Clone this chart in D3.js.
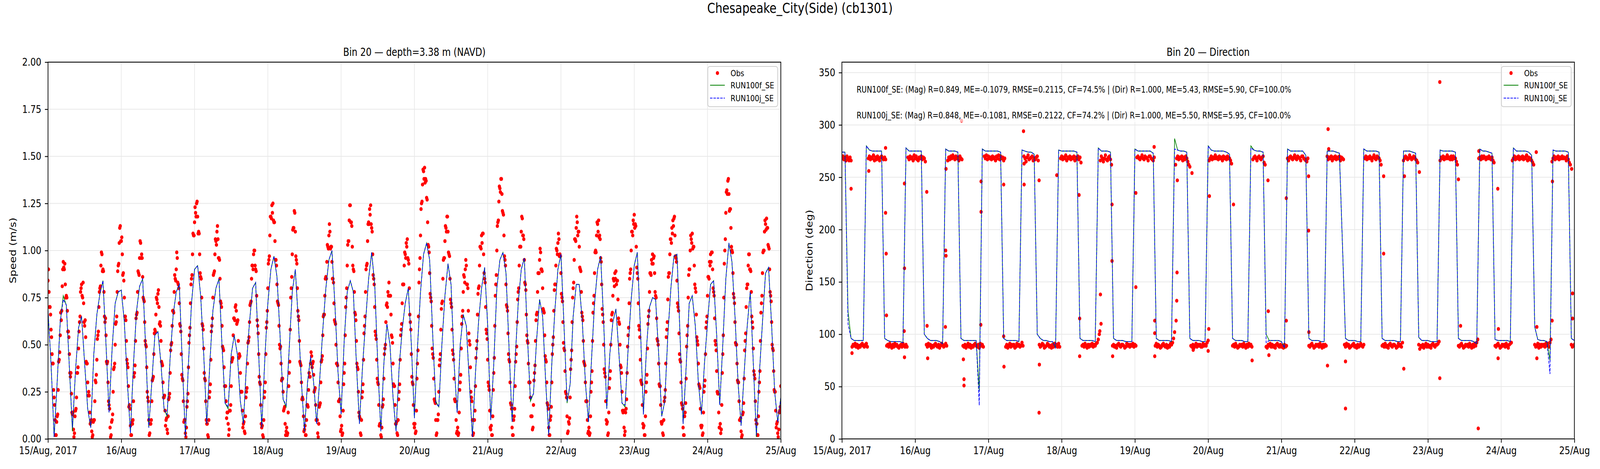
<!DOCTYPE html>
<html>
<head>
  <meta charset="utf-8">
  <title>Chesapeake_City(Side) (cb1301)</title>
  <script src="https://cdn.jsdelivr.net/npm/d3@7"></script>
  <style>
    html, body { margin: 0; padding: 0; background: #fff; overflow: hidden; }
    svg { display: block; width: 100vw; height: 100vh; }
    svg text { font-family: "DejaVu Sans", sans-serif; fill: #000; }
  </style>
</head>
<body>
<script>
'use strict';

// ---------- data ----------
const START = Date.UTC(2017, 7, 15);   // 15 Aug 2017 00:00
const HOUR = 3600 * 1000;

const dayTickHours = [0, 24, 48, 72, 96, 120, 144, 168, 192, 216, 240];
const dayTickLabels = ["15/Aug, 2017", "16/Aug", "17/Aug", "18/Aug", "19/Aug", "20/Aug",
                       "21/Aug", "22/Aug", "23/Aug", "24/Aug", "25/Aug"];
const speedTicks = [0, 0.25, 0.5, 0.75, 1.0, 1.25, 1.5, 1.75, 2.0];
const dirTicks = [0, 50, 100, 150, 200, 250, 300, 350];

const seriesNames = ["Obs", "RUN100f_SE", "RUN100j_SE"];
const statsLines = [
  "RUN100f_SE: (Mag) R=0.849, ME=-0.1079, RMSE=0.2115, CF=74.5% | (Dir) R=1.000, ME=5.43, RMSE=5.90, CF=100.0%",
  "RUN100j_SE: (Mag) R=0.848, ME=-0.1081, RMSE=0.2122, CF=74.2% | (Dir) R=1.000, ME=5.50, RMSE=5.95, CF=100.0%"
];

// model speed, hourly from 15/Aug 00:00 (m/s)
const run100fSpeed = [
  0.68,0.40,0.01,0.30,0.62,0.76,0.71,0.38,0.04,0.36,
  0.59,0.65,0.40,0.16,0.06,0.45,0.66,0.77,0.84,0.50,
  0.14,0.48,0.72,0.78,0.79,0.62,0.30,0.03,0.40,0.68,
  0.81,0.85,0.48,0.06,0.30,0.55,0.57,0.40,0.16,0.12,
  0.43,0.66,0.78,0.82,0.40,0.01,0.40,0.72,0.90,0.92,
  0.76,0.45,0.08,0.40,0.68,0.80,0.85,0.49,0.19,0.16,
  0.45,0.55,0.45,0.20,0.08,0.40,0.62,0.80,0.83,0.45,
  0.06,0.42,0.72,0.90,0.97,0.86,0.55,0.21,0.17,0.48,
  0.78,0.90,0.62,0.30,0.04,0.30,0.43,0.30,0.08,0.32,
  0.58,0.80,0.95,1.00,0.70,0.35,0.13,0.52,0.78,0.84,
  0.78,0.40,0.08,0.38,0.62,0.85,0.99,0.82,0.40,0.04,
  0.40,0.61,0.50,0.22,0.04,0.38,0.58,0.72,0.80,0.50,
  0.11,0.48,0.78,0.98,1.04,0.95,0.55,0.20,0.17,0.50,
  0.76,0.93,0.82,0.40,0.14,0.50,0.66,0.60,0.30,0.01,
  0.35,0.62,0.80,0.91,0.60,0.10,0.40,0.80,0.95,0.99,
  0.88,0.48,0.09,0.42,0.72,0.90,0.96,0.55,0.20,0.24,
  0.52,0.74,0.65,0.30,0.02,0.40,0.68,0.90,0.98,0.60,
  0.19,0.29,0.65,0.82,0.82,0.62,0.30,0.09,0.42,0.72,
  0.90,0.97,0.62,0.16,0.45,0.62,0.69,0.45,0.19,0.17,
  0.48,0.74,0.92,0.99,0.60,0.13,0.48,0.70,0.75,0.74,
  0.45,0.12,0.20,0.55,0.80,0.97,0.98,0.55,0.08,0.38,
  0.72,0.76,0.60,0.30,0.13,0.40,0.62,0.82,0.84,0.55,
  0.18,0.50,0.85,1.04,0.94,0.65,0.30,0.07,0.35,0.60,
  0.78,0.40,0.01,0.35,0.62,0.88,0.91,0.60,0.25,0.09,
  0.22
];
const run100jSpeed = [
  0.68,0.40,0.01,0.30,0.62,0.74,0.71,0.38,0.06,0.36,
  0.59,0.65,0.40,0.16,0.06,0.45,0.66,0.77,0.84,0.50,
  0.14,0.48,0.72,0.78,0.79,0.62,0.30,0.03,0.40,0.68,
  0.81,0.85,0.48,0.06,0.30,0.55,0.57,0.40,0.16,0.13,
  0.43,0.66,0.78,0.82,0.40,0.01,0.40,0.72,0.90,0.92,
  0.76,0.45,0.08,0.40,0.68,0.80,0.85,0.49,0.19,0.17,
  0.45,0.55,0.45,0.20,0.08,0.40,0.62,0.80,0.83,0.45,
  0.06,0.42,0.72,0.90,0.97,0.86,0.55,0.21,0.18,0.48,
  0.78,0.90,0.62,0.30,0.04,0.30,0.44,0.30,0.08,0.32,
  0.58,0.80,0.95,1.00,0.70,0.35,0.13,0.52,0.78,0.84,
  0.78,0.40,0.08,0.38,0.62,0.85,0.99,0.82,0.40,0.04,
  0.40,0.61,0.50,0.22,0.04,0.38,0.58,0.72,0.80,0.50,
  0.11,0.48,0.78,0.98,1.04,0.95,0.55,0.19,0.17,0.50,
  0.76,0.93,0.82,0.40,0.14,0.50,0.66,0.60,0.30,0.01,
  0.35,0.62,0.80,0.91,0.60,0.10,0.40,0.80,0.95,0.99,
  0.88,0.48,0.09,0.42,0.72,0.90,0.96,0.55,0.21,0.24,
  0.52,0.74,0.65,0.30,0.02,0.40,0.68,0.90,0.98,0.60,
  0.20,0.29,0.65,0.82,0.82,0.62,0.30,0.09,0.42,0.72,
  0.90,0.97,0.62,0.16,0.45,0.62,0.69,0.45,0.19,0.18,
  0.48,0.74,0.92,0.99,0.60,0.13,0.48,0.70,0.75,0.74,
  0.45,0.12,0.20,0.55,0.80,0.97,0.98,0.55,0.08,0.38,
  0.72,0.76,0.60,0.30,0.13,0.40,0.62,0.82,0.84,0.55,
  0.18,0.50,0.85,1.04,0.94,0.65,0.30,0.07,0.35,0.60,
  0.78,0.40,0.02,0.35,0.62,0.88,0.91,0.60,0.25,0.09,
  0.22
];

// model direction, hourly (deg)
const run100fDir = [
  274,274,122,96,94,94,94,94,280,276,
  275,275,275,275,96,94,93,93,93,93,
  92,278,275,275,275,275,275,100,96,94,
  94,94,93,91,277,275,275,275,274,96,
  94,94,94,94,94,46,277,275,275,275,
  275,275,274,96,94,94,94,94,93,276,
  275,274,274,272,100,96,94,94,93,93,
  87,276,275,275,275,275,275,274,96,94,
  94,94,94,93,278,275,275,275,274,96,
  94,94,94,93,93,93,277,275,275,275,
  275,275,273,96,94,94,94,94,93,287,
  276,275,275,274,96,94,94,94,93,93,
  280,276,275,275,275,275,274,272,96,94,
  94,94,93,93,280,276,275,275,274,100,
  94,94,94,94,93,87,277,275,275,275,
  275,275,271,96,94,94,94,93,93,275,
  275,275,274,273,186,96,94,94,94,93,
  93,277,275,275,275,275,274,96,94,94,
  94,94,93,93,275,275,275,274,273,97,
  94,94,94,93,93,93,276,275,275,275,
  275,274,96,94,94,94,94,93,91,277,
  275,275,274,273,95,94,94,94,94,93,
  278,275,275,275,275,274,271,107,95,94,
  94,93,75,276,275,275,275,275,274,96,
  94
];
const run100jDir = [
  274,274,110,96,94,94,94,94,280,276,
  275,275,275,275,96,94,93,93,93,93,
  92,278,275,275,275,275,275,100,96,94,
  94,94,93,91,277,275,275,275,274,96,
  94,94,94,94,94,32,277,275,275,275,
  275,275,274,96,94,94,94,94,93,276,
  275,274,274,272,100,96,94,94,93,93,
  87,276,275,275,275,275,275,274,96,94,
  94,94,94,93,278,275,275,275,274,96,
  94,94,94,93,93,93,277,275,275,275,
  275,275,273,96,94,94,94,94,93,277,
  276,275,275,274,96,94,94,94,93,93,
  280,276,275,275,275,275,274,272,96,94,
  94,94,93,93,278,276,275,275,274,92,
  94,94,94,94,93,87,277,275,275,275,
  275,275,271,96,94,94,94,93,93,275,
  275,275,274,273,186,96,94,94,94,93,
  93,277,275,275,275,275,274,96,94,94,
  94,94,93,93,275,275,275,274,273,97,
  94,94,94,93,93,93,276,275,275,275,
  275,274,96,94,94,94,94,93,91,277,
  275,275,274,273,95,94,94,94,94,93,
  278,275,275,275,275,274,271,107,95,94,
  94,93,62,276,275,275,275,275,274,96,
  94
];

// observed speed, six samples per hour (every 10 min), one group per hour
const obsSpeed = [
  [0.84,0.90,0.78,0.70,0.70,0.66],[0.58,0.54,0.45,0.40,0.40,0.26],[0.22,0.18,0.10,0.02,0.02,0.09],
  [0.12,0.13,0.26,0.41,0.42,0.46],[0.55,0.67,0.63,0.68,0.81,0.90],[0.94,0.91,0.90,0.93,0.82,0.75],
  [0.76,0.75,0.68,0.57,0.57,0.54],[0.45,0.35,0.33,0.35,0.24,0.14],[0.13,0.14,0.05,0.01,0.03,0.12],
  [0.15,0.16,0.22,0.35,0.35,0.38],[0.48,0.57,0.62,0.65,0.78,0.80],[0.82,0.76,0.75,0.83,0.72,0.62],
  [0.60,0.63,0.54,0.41,0.40,0.40],[0.30,0.23,0.25,0.23,0.14,0.08],[0.09,0.10,0.04,0.01,0.02,0.09],
  [0.10,0.10,0.20,0.31,0.30,0.34],[0.42,0.53,0.55,0.57,0.70,0.78],[0.80,0.81,0.92,0.99,0.98,0.89],
  [0.90,0.89,0.78,0.65,0.62,0.64],[0.55,0.41,0.40,0.41,0.30,0.20],[0.18,0.16,0.06,0.01,0.02,0.09],
  [0.10,0.13,0.25,0.37,0.38,0.40],[0.50,0.61,0.62,0.65,0.78,0.89],[0.92,0.93,1.04,1.12,1.13,1.05],
  [1.05,1.07,0.98,0.87,0.88,0.84],[0.75,0.65,0.65,0.63,0.52,0.42],[0.40,0.38,0.28,0.17,0.18,0.16],
  [0.07,0.02,0.02,0.09,0.08,0.10],[0.20,0.33,0.35,0.39,0.52,0.64],[0.66,0.67,0.78,0.89,0.88,0.87],
  [0.96,1.05,1.04,0.96,0.98,0.96],[0.86,0.75,0.74,0.73,0.62,0.52],[0.50,0.49,0.38,0.25,0.22,0.20],
  [0.10,0.02,0.03,0.08,0.08,0.10],[0.20,0.31,0.32,0.33,0.45,0.56],[0.58,0.57,0.66,0.75,0.74,0.72],
  [0.77,0.79,0.70,0.61,0.62,0.60],[0.52,0.41,0.40,0.39,0.30,0.22],[0.22,0.23,0.15,0.07,0.10,0.11],
  [0.05,0.03,0.12,0.21,0.22,0.24],[0.35,0.47,0.50,0.51,0.60,0.68],[0.68,0.67,0.78,0.87,0.85,0.84],
  [0.90,0.99,0.96,0.83,0.82,0.80],[0.72,0.61,0.60,0.57,0.45,0.34],[0.32,0.31,0.20,0.09,0.10,0.10],
  [0.03,0.01,0.06,0.17,0.20,0.24],[0.38,0.51,0.55,0.59,0.72,0.82],[0.85,0.87,0.98,1.09,1.08,1.08],
  [1.15,1.23,1.20,1.18,1.25,1.26],[1.18,1.09,1.10,1.09,0.98,0.88],[0.86,0.85,0.75,0.61,0.60,0.58],
  [0.48,0.35,0.32,0.31,0.20,0.10],[0.08,0.08,0.02,0.01,0.10,0.22],[0.25,0.29,0.42,0.57,0.60,0.64],
  [0.75,0.87,0.88,0.89,0.98,1.06],[1.05,1.03,1.10,1.13,1.06,0.96],[0.96,0.95,0.85,0.73,0.72,0.70],
  [0.60,0.49,0.48,0.47,0.38,0.28],[0.28,0.28,0.20,0.11,0.14,0.14],[0.08,0.02,0.05,0.15,0.15,0.18],
  [0.28,0.41,0.42,0.43,0.55,0.64],[0.64,0.63,0.70,0.71,0.68,0.61],[0.62,0.63,0.52,0.43,0.45,0.44],
  [0.35,0.25,0.25,0.25,0.15,0.06],[0.08,0.09,0.04,0.03,0.12,0.22],[0.25,0.27,0.40,0.51,0.52,0.54],
  [0.62,0.71,0.72,0.73,0.85,0.92],[0.92,0.90,0.98,1.00,1.00,0.92],[0.90,0.89,0.76,0.63,0.60,0.56],
  [0.45,0.33,0.30,0.29,0.18,0.08],[0.06,0.07,0.02,0.01,0.10,0.22],[0.25,0.30,0.45,0.59,0.62,0.68],
  [0.80,0.93,0.95,0.97,1.08,1.18],[1.18,1.17,1.24,1.20,1.25,1.16],[1.15,1.15,1.05,0.95,0.95,0.92],
  [0.82,0.73,0.72,0.71,0.60,0.50],[0.48,0.49,0.40,0.31,0.32,0.32],[0.25,0.15,0.16,0.17,0.08,0.02],
  [0.04,0.06,0.02,0.03,0.14,0.28],[0.35,0.41,0.58,0.75,0.80,0.86],[0.98,1.11,1.12,1.12,1.21,1.20],
  [1.10,0.97,0.95,0.93,0.80,0.68],[0.65,0.63,0.52,0.41,0.40,0.39],[0.30,0.21,0.22,0.21,0.12,0.04],
  [0.05,0.07,0.02,0.02,0.10,0.18],[0.18,0.17,0.26,0.35,0.33,0.33],[0.40,0.46,0.44,0.38,0.40,0.41],
  [0.34,0.25,0.26,0.27,0.18,0.10],[0.10,0.10,0.03,0.01,0.08,0.17],[0.18,0.19,0.30,0.41,0.42,0.44],
  [0.55,0.65,0.66,0.66,0.76,0.85],[0.86,0.85,0.94,1.03,1.02,1.01],[1.08,1.14,1.10,1.01,1.02,1.02],
  [0.94,0.85,0.85,0.83,0.72,0.63],[0.62,0.61,0.50,0.40,0.40,0.39],[0.30,0.20,0.20,0.21,0.12,0.04],
  [0.05,0.07,0.02,0.03,0.15,0.29],[0.35,0.40,0.55,0.70,0.75,0.80],[0.92,1.03,1.05,1.05,1.16,1.24],
  [1.24,1.15,1.15,1.13,1.02,0.92],[0.90,0.89,0.78,0.67,0.66,0.63],[0.52,0.40,0.38,0.37,0.25,0.14],
  [0.12,0.11,0.03,0.02,0.10,0.22],[0.25,0.29,0.42,0.56,0.60,0.65],[0.78,0.90,0.92,0.93,1.05,1.14],
  [1.15,1.14,1.22,1.19,1.24,1.14],[1.12,1.10,0.98,0.87,0.85,0.82],[0.70,0.57,0.55,0.53,0.42,0.32],
  [0.30,0.29,0.18,0.07,0.08,0.08],[0.02,0.01,0.06,0.17,0.18,0.21],[0.32,0.45,0.48,0.50,0.62,0.71],
  [0.72,0.70,0.78,0.76,0.83,0.76],[0.76,0.76,0.66,0.55,0.54,0.51],[0.40,0.29,0.28,0.28,0.18,0.08],
  [0.08,0.09,0.03,0.02,0.10,0.21],[0.25,0.29,0.42,0.55,0.58,0.61],[0.72,0.82,0.82,0.82,0.92,0.99],
  [0.98,0.96,1.04,1.02,1.06,0.96],[0.95,0.93,0.80,0.66,0.62,0.58],[0.45,0.33,0.30,0.29,0.18,0.08],
  [0.06,0.08,0.03,0.04,0.15,0.32],[0.40,0.47,0.65,0.83,0.90,0.96],[1.08,1.22,1.25,1.26,1.35,1.43],
  [1.42,1.38,1.44,1.36,1.38,1.37],[1.28,1.27,1.15,1.03,1.02,0.99],[0.88,0.77,0.75,0.73,0.60,0.48],
  [0.45,0.43,0.32,0.21,0.20,0.19],[0.10,0.02,0.03,0.10,0.10,0.13],[0.25,0.39,0.42,0.45,0.58,0.69],
  [0.72,0.73,0.85,0.95,0.96,0.96],[1.05,1.13,1.12,1.10,1.18,1.18],[1.10,0.99,0.98,0.97,0.85,0.74],
  [0.72,0.70,0.58,0.47,0.45,0.42],[0.32,0.21,0.20,0.20,0.10,0.03],[0.04,0.06,0.02,0.03,0.14,0.26],
  [0.30,0.34,0.48,0.61,0.65,0.68],[0.78,0.87,0.86,0.83,0.90,0.95],[0.92,0.82,0.82,0.80,0.68,0.56],
  [0.52,0.50,0.38,0.25,0.22,0.20],[0.10,0.02,0.03,0.10,0.10,0.15],[0.28,0.43,0.48,0.52,0.66,0.77],
  [0.80,0.81,0.92,1.02,1.02,1.01],[1.08,1.04,1.09,1.09,0.98,0.88],[0.85,0.83,0.70,0.58,0.56,0.53],
  [0.42,0.30,0.28,0.26,0.15,0.06],[0.05,0.07,0.02,0.02,0.12,0.26],[0.35,0.43,0.60,0.76,0.82,0.87],
  [1.00,1.13,1.15,1.16,1.26,1.34],[1.33,1.31,1.38,1.38,1.30,1.21],[1.20,1.19,1.08,0.97,0.95,0.92],
  [0.82,0.71,0.70,0.68,0.56,0.45],[0.42,0.41,0.30,0.19,0.18,0.16],[0.06,0.02,0.02,0.10,0.12,0.16],
  [0.28,0.41,0.45,0.49,0.62,0.74],[0.78,0.80,0.92,1.02,1.02,1.02],[1.10,1.18,1.17,1.08,1.08,1.06],
  [0.95,0.83,0.82,0.79,0.66,0.55],[0.52,0.51,0.40,0.30,0.30,0.30],[0.22,0.12,0.12,0.12,0.05,0.06],
  [0.18,0.31,0.35,0.39,0.52,0.63],[0.66,0.67,0.78,0.88,0.88,0.88],[0.95,1.01,0.99,0.90,0.90,0.89],
  [0.80,0.69,0.68,0.67,0.55,0.44],[0.42,0.41,0.30,0.19,0.18,0.16],[0.06,0.02,0.02,0.10,0.12,0.17],
  [0.30,0.45,0.50,0.54,0.68,0.79],[0.82,0.82,0.92,1.01,1.00,0.98],[1.04,1.09,1.06,0.97,0.98,0.97],
  [0.88,0.77,0.75,0.73,0.62,0.51],[0.48,0.47,0.36,0.25,0.24,0.22],[0.12,0.03,0.04,0.09,0.08,0.11],
  [0.22,0.37,0.42,0.47,0.62,0.75],[0.80,0.83,0.95,1.06,1.06,1.05],[1.12,1.18,1.15,1.08,1.10,1.10],
  [1.02,0.91,0.90,0.89,0.78,0.67],[0.65,0.63,0.52,0.41,0.40,0.39],[0.30,0.20,0.20,0.20,0.10,0.03],
  [0.04,0.06,0.02,0.03,0.12,0.25],[0.30,0.36,0.52,0.67,0.72,0.76],[0.88,0.99,1.00,0.99,1.08,1.15],
  [1.14,1.10,1.16,1.07,1.08,1.06],[0.96,0.94,0.82,0.69,0.66,0.62],[0.50,0.37,0.35,0.33,0.20,0.10],
  [0.08,0.09,0.02,0.03,0.14,0.27],[0.32,0.36,0.50,0.63,0.66,0.67],[0.76,0.85,0.84,0.81,0.88,0.85],
  [0.89,0.82,0.84,0.84,0.74,0.64],[0.62,0.61,0.50,0.39,0.38,0.35],[0.25,0.15,0.14,0.15,0.06,0.02],
  [0.04,0.14,0.16,0.21,0.35,0.49],[0.55,0.59,0.72,0.85,0.88,0.90],[1.00,1.10,1.10,1.08,1.16,1.14],
  [1.19,1.12,1.14,1.13,1.02,0.91],[0.88,0.85,0.72,0.60,0.58,0.54],[0.42,0.31,0.30,0.29,0.18,0.08],
  [0.06,0.07,0.02,0.02,0.12,0.25],[0.30,0.34,0.48,0.61,0.65,0.68],[0.78,0.88,0.88,0.87,0.95,0.93],
  [0.98,0.93,0.96,0.97,0.88,0.78],[0.76,0.75,0.64,0.53,0.52,0.50],[0.40,0.29,0.28,0.28,0.18,0.09],
  [0.08,0.09,0.03,0.02,0.10,0.20],[0.22,0.26,0.40,0.54,0.58,0.62],[0.74,0.86,0.88,0.88,0.98,1.06],
  [1.06,1.04,1.12,1.09,1.16,1.13],[1.17,1.18,1.08,0.97,0.96,0.94],[0.84,0.72,0.70,0.68,0.56,0.45],
  [0.42,0.41,0.30,0.19,0.18,0.16],[0.06,0.02,0.02,0.12,0.14,0.19],[0.32,0.49,0.55,0.60,0.75,0.87],
  [0.90,0.90,1.00,1.08,1.06,1.04],[1.09,1.01,1.02,1.02,0.92,0.82],[0.80,0.78,0.66,0.54,0.52,0.50],
  [0.40,0.29,0.28,0.27,0.16,0.07],[0.06,0.07,0.02,0.03,0.14,0.25],[0.28,0.31,0.45,0.59,0.62,0.65],
  [0.76,0.86,0.86,0.85,0.94,0.92],[0.98,0.94,0.99,0.99,0.90,0.80],[0.78,0.76,0.64,0.52,0.50,0.47],
  [0.36,0.25,0.24,0.24,0.14,0.06],[0.06,0.08,0.03,0.05,0.18,0.35],[0.45,0.55,0.75,0.93,1.00,1.06],
  [1.20,1.31,1.32,1.30,1.37,1.38],[1.30,1.21,1.22,1.22,1.12,1.02],[1.00,0.99,0.88,0.77,0.75,0.72],
  [0.62,0.51,0.50,0.50,0.40,0.31],[0.30,0.30,0.20,0.10,0.10,0.11],[0.04,0.01,0.02,0.13,0.14,0.19],
  [0.32,0.47,0.52,0.56,0.70,0.80],[0.82,0.82,0.92,0.98,0.98,0.90],[0.90,0.89,0.78,0.65,0.62,0.59],
  [0.48,0.36,0.34,0.32,0.20,0.10],[0.08,0.08,0.02,0.02,0.12,0.25],[0.30,0.36,0.52,0.67,0.72,0.76],
  [0.88,0.99,1.00,1.00,1.10,1.16],[1.14,1.11,1.17,1.12,1.12,1.03],[1.02,1.01,0.90,0.78,0.76,0.73],
  [0.62,0.50,0.48,0.47,0.36,0.26],[0.25,0.25,0.15,0.06,0.08,0.09],[0.03,0.01,0.05,0.14,0.15,0.17],
  [0.28]
];

// observed direction, three samples per hour (every 20 min)
const obsDir = [
  [268,270,267],[269,266,270],[268,266,269],[266,88,90],[89,91,88],[90,87,89],
  [88,90,91],[89,88,90],[91,88,268],[270,267,269],[268,271,266],[269,267,270],
  [268,266,269],[270,268,267],[269,267,89],[90,88,91],[89,87,90],[88,91,89],
  [90,88,87],[89,90,88],[91,89,88],[90,88,269],[267,270,268],[269,266,271],
  [268,270,267],[266,269,268],[270,267,269],[268,265,90],[88,91,89],[90,87,89],
  [88,90,91],[89,88,90],[87,89,91],[90,88,89],[91,89,266],[269,267,270],
  [268,271,269],[267,270,268],[269,266,270],[268,267,89],[88,90,87],[89,91,88],
  [90,87,89],[88,90,91],[89,88,90],[87,91,89],[90,88,270],[268,271,267],
  [270,268,269],[267,270,268],[269,266,270],[268,271,267],[270,268,269],[266,268,88],
  [90,87,89],[91,88,90],[89,90,87],[88,91,89],[90,88,89],[92,89,270],
  [268,265,269],[271,267,268],[269,270,266],[268,267,269],[270,266,90],[88,89,91],
  [90,87,88],[89,91,90],[88,89,87],[90,88,91],[89,90,88],[91,88,268],
  [270,267,269],[268,271,266],[269,268,270],[267,269,268],[270,266,269],[268,270,267],
  [269,264,89],[90,88,91],[89,87,90],[88,90,89],[91,88,90],[89,91,92],
  [95,100,266],[270,268,265],[268,271,267],[266,269,270],[267,262,89],[90,88,89],
  [87,90,91],[89,88,90],[90,89,87],[88,91,89],[90,88,90],[89,91,88],
  [90,89,269],[270,268,267],[269,271,268],[267,270,269],[268,266,270],[270,268,267],
  [266,269,89],[91,88,90],[89,87,88],[90,91,89],[88,90,87],[89,88,91],
  [90,92,96],[102,262,268],[270,267,269],[268,270,266],[269,267,270],[268,265,262],
  [260,89,88],[90,87,89],[91,88,90],[89,90,88],[88,91,89],[90,89,92],
  [94,266,268],[270,267,269],[268,271,268],[269,267,270],[268,269,266],[270,268,269],
  [267,270,268],[268,266,263],[89,90,88],[91,89,87],[88,90,89],[90,88,91],
  [89,87,90],[88,91,89],[90,88,267],[269,270,268],[266,269,270],[268,267,269],
  [270,264,262],[88,87,90],[89,91,88],[90,88,89],[87,90,91],[89,88,90],
  [88,89,87],[90,88,89],[268,266,269],[270,268,267],[269,271,268],[267,270,269],
  [268,266,270],[270,268,267],[266,265,268],[89,88,90],[91,89,87],[88,90,89],
  [90,88,91],[89,87,90],[88,90,89],[270,267,269],[268,270,266],[269,268,270],
  [267,269,268],[270,266,269],[268,267,90],[88,91,89],[90,87,88],[89,90,91],
  [88,89,87],[90,88,89],[91,89,88],[90,268,270],[267,269,268],[270,268,266],
  [269,271,268],[267,270,269],[268,266,262],[89,90,88],[91,88,89],[87,90,91],
  [89,88,90],[90,89,87],[88,91,89],[90,88,92],[266,268,270],[269,267,268],
  [271,269,267],[268,270,269],[267,266,264],[90,86,89],[88,90,87],[89,91,88],
  [90,88,89],[87,90,91],[89,88,90],[90,91,93],[266,269,268],[270,267,269],
  [268,271,268],[269,267,270],[267,270,268],[268,265,262],[89,88,90],[91,89,87],
  [88,90,89],[90,88,91],[89,87,90],[88,91,89],[92,95,268],[269,267,270],
  [268,270,269],[267,269,268],[270,268,267],[269,266,264],[89,88,90],[91,89,87],
  [88,90,89],[90,88,91],[89,87,90],[91,92,266],[268,270,267],[269,268,270],
  [267,269,268],[270,267,269],[268,271,266],[269,267,268],[266,264,262],[90,88,89],
  [91,87,90],[88,90,89],[90,88,91],[89,91,88],[92,95,265],[268,270,267],
  [269,268,270],[267,269,268],[270,268,269],[268,266,270],[267,264,262],[90,88,89],
  [90]
];

// scattered observed directions around the turns of the tide: [hour, deg]
const obsDirExtra = [
  [3.0,239],[3.3,82],[8.8,256],[14.3,278],[14.3,216],[14.5,177],[14.6,118],[20.5,244],
  [20.5,163],[20.4,103],[20.5,78],[27.8,236],[27.9,108],[28.1,77],[34.1,258],[34.0,180],
  [34.1,175],[33.9,107],[39.2,304],[39.8,76],[40.0,57],[40.0,51],[45.6,246],[45.6,217],
  [45.5,109],[53.0,243],[53.0,98],[53.1,69],[59.7,243],[59.7,263],[59.5,294],[64.6,247],
  [64.7,71],[64.6,25],[70.4,252],[77.7,233],[77.9,115],[77.9,79],[84.7,138],[84.9,110],
  [84.5,103],[88.5,224],[88.5,170],[88.7,79],[96.3,235],[96.3,145],[102.5,113],[102.5,101],
  [102.5,79],[102.3,279],[109.8,159],[109.7,132],[109.5,113],[109.9,247],[114.7,254],[115.1,85],
  [120.4,232],[120.2,105],[120.0,84],[128.3,224],[134.4,75],[139.6,247],[139.7,122],[139.9,80],
  [145.6,230],[145.6,113],[152.9,199],[152.9,251],[153.0,102],[159.3,296],[159.5,277],[159.1,70],
  [165.0,29],[165.0,74],[177.5,251],[177.5,177],[184.1,67],[184.3,251],[189.2,255],[195.9,58],
  [195.9,341],[202.0,248],[202.7,108],[208.5,10],[208.7,275],[214.9,239],[215.1,105],[215.0,77],
  [227.5,274],[227.7,107],[227.7,77],[232.8,246],[232.7,113],[239.1,258],[239.4,139],[239.4,115]
];

// ---------- layout ----------
const W = 5000, H = 1200;
const PT = 159, PB = 1123;
const FONT = "DejaVu Sans";
const OBS_COLOR = "#ff0000", F_COLOR = "#008000", J_COLOR = "#0000ff";

const at = h => new Date(START + h * HOUR);
const hourly = arr => arr.map((v, h) => ({ t: at(h), v: v }));
// samples spread evenly over their hour
const perHour = groups => groups.flatMap((g, h) => g.map((v, j) => ({ t: at(h + j / g.length), v: v })));

// drawn in a 5000x1200 user space, stretched to fill the window
const svg = d3.select("body").append("svg")
  .attr("viewBox", "0 0 " + W + " " + H)
  .attr("preserveAspectRatio", "none")
  .style("background", "#fff");

svg.append("text")
  .attr("x", W / 2).attr("y", 33)
  .attr("text-anchor", "middle")
  .attr("font-size", 35.5)
  .text("Chesapeake_City(Side) (cb1301)");

function drawPanel(cfg) {
  const x = d3.scaleUtc().domain([at(0), at(240)]).range([cfg.left, cfg.right]);
  const y = d3.scaleLinear().domain(cfg.yDomain).range([PB, PT]);
  const g = svg.append("g");

  // grid
  g.append("g").selectAll("line").data(dayTickHours).join("line")
    .attr("x1", d => x(at(d))).attr("x2", d => x(at(d)))
    .attr("y1", PT).attr("y2", PB)
    .attr("stroke", "#e8e8e8").attr("stroke-width", 2);
  g.append("g").selectAll("line").data(cfg.yTicks).join("line")
    .attr("x1", cfg.left).attr("x2", cfg.right)
    .attr("y1", d => y(d)).attr("y2", d => y(d))
    .attr("stroke", "#e8e8e8").attr("stroke-width", 2);

  // plot area clip
  svg.append("clipPath").attr("id", cfg.id)
    .append("rect")
    .attr("x", cfg.left).attr("y", PT)
    .attr("width", cfg.right - cfg.left).attr("height", PB - PT);
  const plot = g.append("g").attr("clip-path", "url(#" + cfg.id + ")");

  plot.append("g").selectAll("circle").data(cfg.obs).join("circle")
    .attr("cx", d => x(d.t)).attr("cy", d => y(d.v))
    .attr("r", 5).attr("fill", OBS_COLOR);

  const line = d3.line().x(d => x(d.t)).y(d => y(d.v));
  plot.append("path").datum(cfg.runF)
    .attr("d", line).attr("fill", "none")
    .attr("stroke", F_COLOR).attr("stroke-width", 2);
  plot.append("path").datum(cfg.runJ)
    .attr("d", line).attr("fill", "none")
    .attr("stroke", J_COLOR).attr("stroke-width", 2)
    .attr("stroke-dasharray", "7.4,3.2");

  // axes
  const xAxis = d3.axisBottom(x)
    .tickValues(dayTickHours.map(at))
    .tickFormat((d, i) => dayTickLabels[i])
    .tickSizeInner(9.7).tickSizeOuter(0).tickPadding(10);
  const yAxis = d3.axisLeft(y)
    .tickValues(cfg.yTicks)
    .tickFormat(cfg.yFormat)
    .tickSizeInner(9.7).tickSizeOuter(0).tickPadding(11);

  [g.append("g").attr("transform", "translate(0," + PB + ")").call(xAxis),
   g.append("g").attr("transform", "translate(" + cfg.left + ",0)").call(yAxis)]
    .forEach(a => {
      a.select(".domain").remove();
      a.attr("font-family", FONT).attr("font-size", 27);
      a.selectAll(".tick line").attr("stroke", "#000").attr("stroke-width", 2.2);
      a.selectAll(".tick text").attr("fill", "#000");
    });

  // spines
  g.append("rect")
    .attr("x", cfg.left).attr("y", PT)
    .attr("width", cfg.right - cfg.left).attr("height", PB - PT)
    .attr("fill", "none").attr("stroke", "#000").attr("stroke-width", 2.2);

  // title and y label
  g.append("text")
    .attr("x", (cfg.left + cfg.right) / 2).attr("y", 143)
    .attr("text-anchor", "middle").attr("font-size", 27.8)
    .text(cfg.title);
  g.append("text")
    .attr("transform", "translate(" + cfg.ylabelX + "," + ((PT + PB) / 2) + ") rotate(-90)")
    .attr("text-anchor", "middle").attr("font-size", 27.8)
    .text(cfg.ylabel);

  // legend
  const lx = cfg.right - 228, ly = 170;
  const lg = g.append("g").attr("transform", "translate(" + lx + "," + ly + ")");
  lg.append("rect")
    .attr("width", 218).attr("height", 103).attr("rx", 6)
    .attr("fill", "#fff").attr("fill-opacity", 0.8)
    .attr("stroke", "#cccccc").attr("stroke-width", 2.2);
  const rows = [17, 48, 81];
  lg.append("circle").attr("cx", 30).attr("cy", rows[0]).attr("r", 5).attr("fill", OBS_COLOR);
  lg.append("line").attr("x1", 7).attr("x2", 53).attr("y1", rows[1]).attr("y2", rows[1])
    .attr("stroke", F_COLOR).attr("stroke-width", 2.2);
  lg.append("line").attr("x1", 7).attr("x2", 53).attr("y1", rows[2]).attr("y2", rows[2])
    .attr("stroke", J_COLOR).attr("stroke-width", 2.2).attr("stroke-dasharray", "7.4,3.2");
  lg.selectAll("text.lab").data(seriesNames).join("text")
    .attr("class", "lab")
    .attr("x", 71).attr("y", (d, i) => rows[i])
    .attr("dy", "0.36em").attr("font-size", 22)
    .text(d => d);

  return { g: g, x: x, y: y };
}

drawPanel({
  id: "clipSpeed", left: 150, right: 2440,
  yDomain: [0, 2], yTicks: speedTicks, yFormat: d3.format(".2f"),
  title: "Bin 20 \u2014 depth=3.38 m (NAVD)", ylabel: "Speed (m/s)", ylabelX: 49.5,
  obs: perHour(obsSpeed),
  runF: hourly(run100fSpeed), runJ: hourly(run100jSpeed)
});

const dirPanel = drawPanel({
  id: "clipDir", left: 2631, right: 4920,
  yDomain: [0, 360], yTicks: dirTicks, yFormat: d3.format("d"),
  title: "Bin 20 \u2014 Direction", ylabel: "Direction (deg)", ylabelX: 2539,
  obs: perHour(obsDir).concat(obsDirExtra.map(d => ({ t: at(d[0]), v: d[1] }))),
  runF: hourly(run100fDir), runJ: hourly(run100jDir)
});

// statistics text with a translucent white box behind it
const stats = dirPanel.g.append("g");
statsLines.forEach((s, i) => {
  const t = stats.append("text")
    .attr("x", 2677).attr("y", 237 + i * 66)
    .attr("font-size", 22.2)
    .text(s);
  const b = t.node().getBBox();
  stats.insert("rect", "text")
    .attr("x", b.x - 4).attr("y", b.y - 4)
    .attr("width", b.width + 8).attr("height", b.height + 8)
    .attr("fill", "#fff").attr("fill-opacity", 0.7);
});
</script>
</body>
</html>
